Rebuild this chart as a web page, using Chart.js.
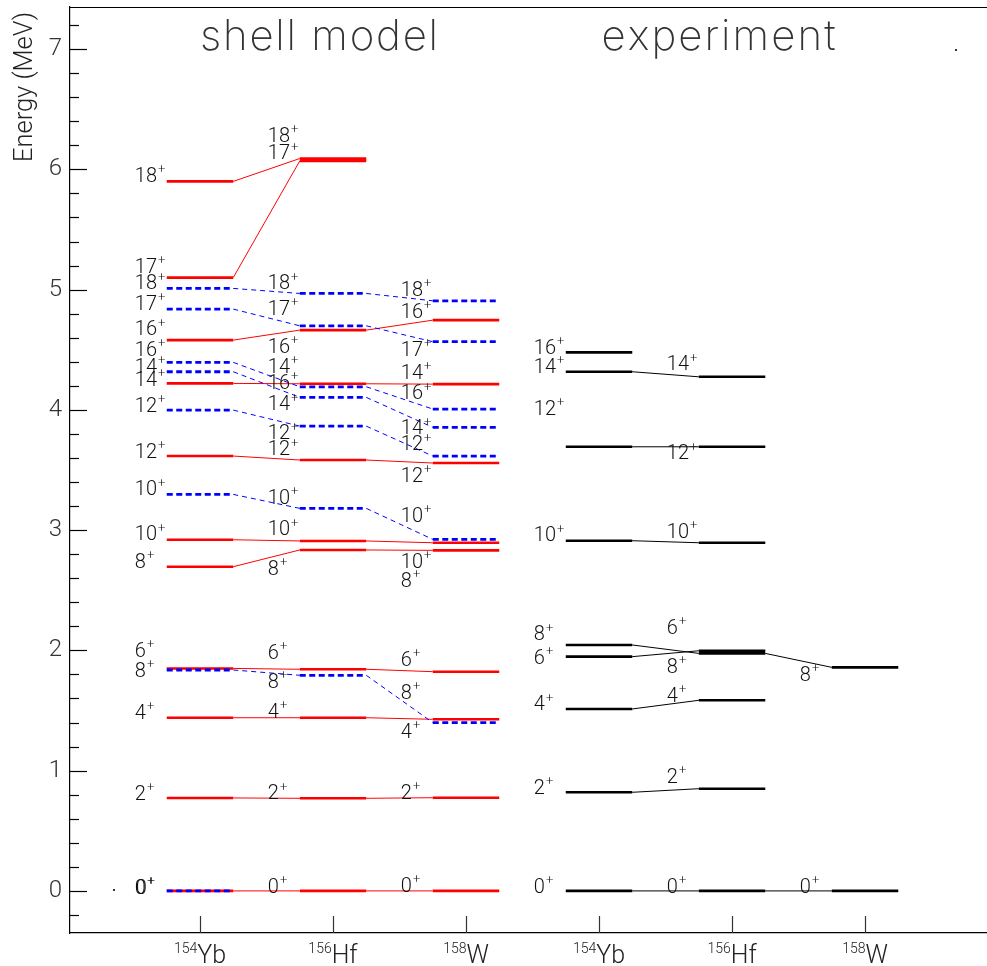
<!DOCTYPE html>
<html><head><meta charset="utf-8">
<script src="https://cdn.jsdelivr.net/npm/chart.js@4.4.0/dist/chart.umd.min.js"></script>
<style>html,body{margin:0;padding:0;background:#fff;}#wrap{width:987px;height:966px;}</style>
</head><body><div id="wrap"><canvas id="c" width="987" height="966"></canvas></div>
<script>
// ---------- data ----------
const tickMass = ["154","156","158","154","156","158"];
const tickElem = ["Yb","Hf","W","Yb","Hf","W"];
const smCols = [1,2,3];
const expCols = [4,5,6];

// shell model, solid red band
const redSpins = [0,2,4,6,8,10,12,14,16,17,18];
const redYb154 = [0,0.773,1.44,1.85,2.696,2.92,3.616,4.22,4.58,5.10,5.90];
const redHf156 = [0,0.77,1.44,1.843,2.835,2.91,3.583,4.217,4.663,6.07,6.09];
const redW158  = [0,0.775,1.427,1.823,2.832,2.895,3.558,4.214,4.746,null,null];

// shell model, dashed blue band
const blueSpins = [0,8,10,12,14,16,17,18];
const blueYb154 = [0,1.837,3.297,3.998,4.317,4.395,4.838,5.01];
const blueHf156 = [null,1.793,3.181,3.865,4.104,4.192,4.699,4.968];
const blueW158  = [null,1.40,2.923,3.616,3.855,4.007,4.567,4.907];

// experiment
const expSpins = [0,2,4,6,8,10,12,14,16];
const expYb154 = [0,0.820,1.513,1.948,2.045,2.912,3.693,4.317,4.478];
const expHf156 = [0,0.850,1.585,1.997,1.975,2.895,3.693,4.275,null];
const expW158  = [0,null,null,null,1.859,null,null,null,null];

// spin labels (spin, energy of label anchor) per column
const lblSpins1 = [18,17,18,17,16,16,14,14,12,12,10,10,8,6,8,4,2,0];
const lblE1 = [5.952,5.198,5.060,4.890,4.677,4.505,4.367,4.256,4.040,3.658,3.347,2.973,2.743,2.003,1.837,1.490,0.817,0.036];
const lblSpins2 = [18,17,18,17,16,14,16,14,12,12,10,10,8,6,8,4,2,0];
const lblE2 = [6.284,6.141,5.060,4.849,4.533,4.367,4.234,4.054,3.813,3.680,3.278,3.015,2.687,1.989,1.746,1.499,0.820,0.044];
const lblSpins3 = [18,16,17,14,16,14,12,12,10,10,8,6,8,4,2,0];
const lblE3 = [5.004,4.821,4.505,4.317,4.145,3.855,3.722,3.458,3.126,2.743,2.585,1.928,1.657,1.333,0.825,0.050];
const lblSpins4 = [16,14,12,10,8,6,4,2,0];
const lblE4 = [4.524,4.367,4.017,2.965,2.142,1.948,1.560,0.867,0.044];
const lblSpins5 = [14,12,10,6,8,4,2,0];
const lblE5 = [4.387,3.647,2.995,2.197,1.873,1.629,0.956,0.044];
const lblSpins6 = [8,0];
const lblE6 = [1.804,0.044];

const titles = ["shell model","experiment"];
const yTitle = "Energy (MeV)";

// ---------- build ----------
const HALF = 0.25;
function barPoints(cols, arrs){
  const pts=[];
  cols.forEach((c,k)=>arrs[k].forEach(E=>{
    if(E==null) return;
    pts.push({x:c-HALF,y:E},{x:c+HALF,y:E},{x:c+HALF,y:null});
  }));
  return pts;
}
function linkPoints(cols, arrs){
  const pts=[];
  const n=arrs[0].length;
  for(let j=0;j<n;j++){
    for(let k=0;k<cols.length-1;k++){
      const a=arrs[k][j], b=arrs[k+1][j];
      if(a==null||b==null) continue;
      pts.push({x:cols[k]+HALF,y:a},{x:cols[k+1]-HALF,y:b},{x:cols[k+1]-HALF,y:null});
    }
  }
  return pts;
}
const redArr=[redYb154,redHf156,redW158];
const blueArr=[blueYb154,blueHf156,blueW158];
const expArr=[expYb154,expHf156,expW158];

function ds(label,data,color,width,dash){
  return {label,data,borderColor:color,borderWidth:width,borderDash:dash||[],pointRadius:0,
    pointHoverRadius:0,fill:false,tension:0,spanGaps:false,showLine:true};
}

const labelCols=[
  {c:1,spins:lblSpins1,E:lblE1},
  {c:2,spins:lblSpins2,E:lblE2},
  {c:3,spins:lblSpins3,E:lblE3},
  {c:4,spins:lblSpins4,E:lblE4},
  {c:5,spins:lblSpins5,E:lblE5},
  {c:6,spins:lblSpins6,E:lblE6}
];
const FONT="Roboto, 'Liberation Sans', 'DejaVu Sans', sans-serif";
const TFONT="Inter, Roboto, 'DejaVu Sans', sans-serif";

function spacedText(ctx,text,cx,y,font,w){
  ctx.save();
  ctx.font=font;
  ctx.textAlign='left';
  const chars=[...text];
  const widths=chars.map(ch=>ctx.measureText(ch).width);
  const nat=widths.reduce((s,v)=>s+v,0);
  const gap=(w-nat)/(chars.length-1);
  let x=cx-w/2;
  chars.forEach((ch,i)=>{ctx.fillText(ch,x,y);x+=widths[i]+gap;});
  ctx.restore();
}

const decor={
  id:'decor',
  afterDraw(chart){
    const ctx=chart.ctx, xs=chart.scales.x, ys=chart.scales.y, a=chart.chartArea;
    ctx.save();
    // top frame line
    ctx.strokeStyle='#000'; ctx.lineWidth=1.2;
    ctx.beginPath(); ctx.moveTo(a.left,a.top+0.5); ctx.lineTo(a.right,a.top+0.5); ctx.stroke();
    // y ticks (inward)
    ctx.lineWidth=1.2;
    for(let i=-1;i<=36;i++){
      const v=i*0.2; if(v<ys.min||v>ys.max) continue;
      const py=Math.round(ys.getPixelForValue(v))+0.5;
      const major=(i%5===0);
      ctx.beginPath(); ctx.moveTo(a.left,py); ctx.lineTo(a.left+(major?17:9),py); ctx.stroke();
    }
    // x ticks (inward)
    ctx.strokeStyle='#333';
    for(let i=1;i<=6;i++){
      const px=Math.round(xs.getPixelForValue(i))+0.5;
      ctx.beginPath(); ctx.moveTo(px,a.bottom); ctx.lineTo(px,a.bottom-17); ctx.stroke();
    }
    // x tick labels with superscript mass number
    ctx.fillStyle='#222';
    ctx.textBaseline='alphabetic'; ctx.textAlign='left';
    for(let i=0;i<6;i++){
      const px=xs.getPixelForValue(i+1);
      ctx.font="300 14px "+FONT; const ws=ctx.measureText(tickMass[i]).width;
      ctx.font="300 25px "+FONT; const wm=ctx.measureText(tickElem[i]).width;
      const x0=px-(ws+wm)/2;
      ctx.font="300 14px "+FONT; ctx.fillText(tickMass[i],x0,953);
      ctx.font="300 25px "+FONT; ctx.fillText(tickElem[i],x0+ws,963);
    }
    // y axis title
    ctx.save();
    ctx.translate(32,162); ctx.rotate(-Math.PI/2);
    ctx.font="300 25px "+FONT;
    const mt=ctx.measureText(yTitle).width;
    ctx.scale(150/mt,1);
    ctx.textAlign='left'; ctx.fillStyle='#222';
    ctx.fillText(yTitle,0,0);
    ctx.restore();
    // panel titles
    ctx.fillStyle='#333';
    ctx.textBaseline='alphabetic';
    spacedText(ctx,titles[0],xs.getPixelForValue(1.895),ys.getPixelForValue(6.99),"200 42px "+TFONT,238);
    spacedText(ctx,titles[1],xs.getPixelForValue(4.898),ys.getPixelForValue(6.99),"200 42px "+TFONT,234);
    // spin labels
    ctx.fillStyle='#111';
    labelCols.forEach(col=>{
      const lx=xs.getPixelForValue(col.c-0.49);
      col.spins.forEach((s,k)=>{
        const cy=ys.getPixelForValue(col.E[k]);
        const base=cy+7;
        const bold=(col.c===1&&s===0);
        ctx.font="300 20px "+FONT;
        ctx.textAlign='left'; ctx.textBaseline='alphabetic';
        const t=String(s);
        ctx.fillText(t,lx,base);
        if(bold) ctx.fillText(t,lx+0.8,base);
        const w=ctx.measureText(t).width;
        ctx.font="300 13px "+FONT;
        ctx.textBaseline='middle';
        ctx.fillText('+',lx+w+1,base-12);
        if(bold) ctx.fillText('+',lx+w+1.8,base-12);
      });
    });
    // small stray dots of the original
    ctx.fillStyle='#333';
    [[0.346,0.017],[6.677,7.0]].forEach(p=>{
      ctx.fillRect(Math.round(xs.getPixelForValue(p[0])),Math.round(ys.getPixelForValue(p[1])),2,2);
    });
    ctx.restore();
  }
};

new Chart(document.getElementById('c'),{
  type:'line',
  data:{datasets:[
    ds('SM band B levels',barPoints(smCols,blueArr),'#0000ff',2.8,[6,3.5]),
    ds('SM band B links',linkPoints(smCols,blueArr),'#0000ff',1,[5,4]),
    ds('SM band A levels',barPoints(smCols,redArr),'#ff0000',2.6),
    ds('SM band A links',linkPoints(smCols,redArr),'#ff0000',1),
    ds('Exp levels',barPoints(expCols,expArr),'#000000',2.6),
    ds('Exp links',linkPoints(expCols,expArr),'#000000',1)
  ]},
  options:{
    responsive:false, animation:false, devicePixelRatio:1,
    layout:{padding:{top:7,right:0,bottom:0,left:0}},
    plugins:{legend:{display:false},tooltip:{enabled:false},title:{display:false}},
    events:[],
    scales:{
      x:{type:'linear',min:0.0226,max:6.917,
        grid:{display:false,drawTicks:false},
        border:{display:true,color:'#000',width:1.2},
        ticks:{display:false},
        afterFit(s){s.height=33;s.paddingLeft=0;s.paddingRight=0;}
      },
      y:{type:'linear',min:-0.35,max:7.35,
        grid:{display:false,drawTicks:false},
        border:{display:true,color:'#000',width:1.2},
        ticks:{stepSize:1,includeBounds:false,padding:8,color:'#333',
          font:{family:FONT,size:24,weight:'300'},
          callback:(v)=>Number.isInteger(v)?String(v):''},
        afterFit(s){s.width=70;s.paddingTop=0;s.paddingBottom=0;}
      }
    }
  },
  plugins:[decor]
});
</script>
</body></html>
